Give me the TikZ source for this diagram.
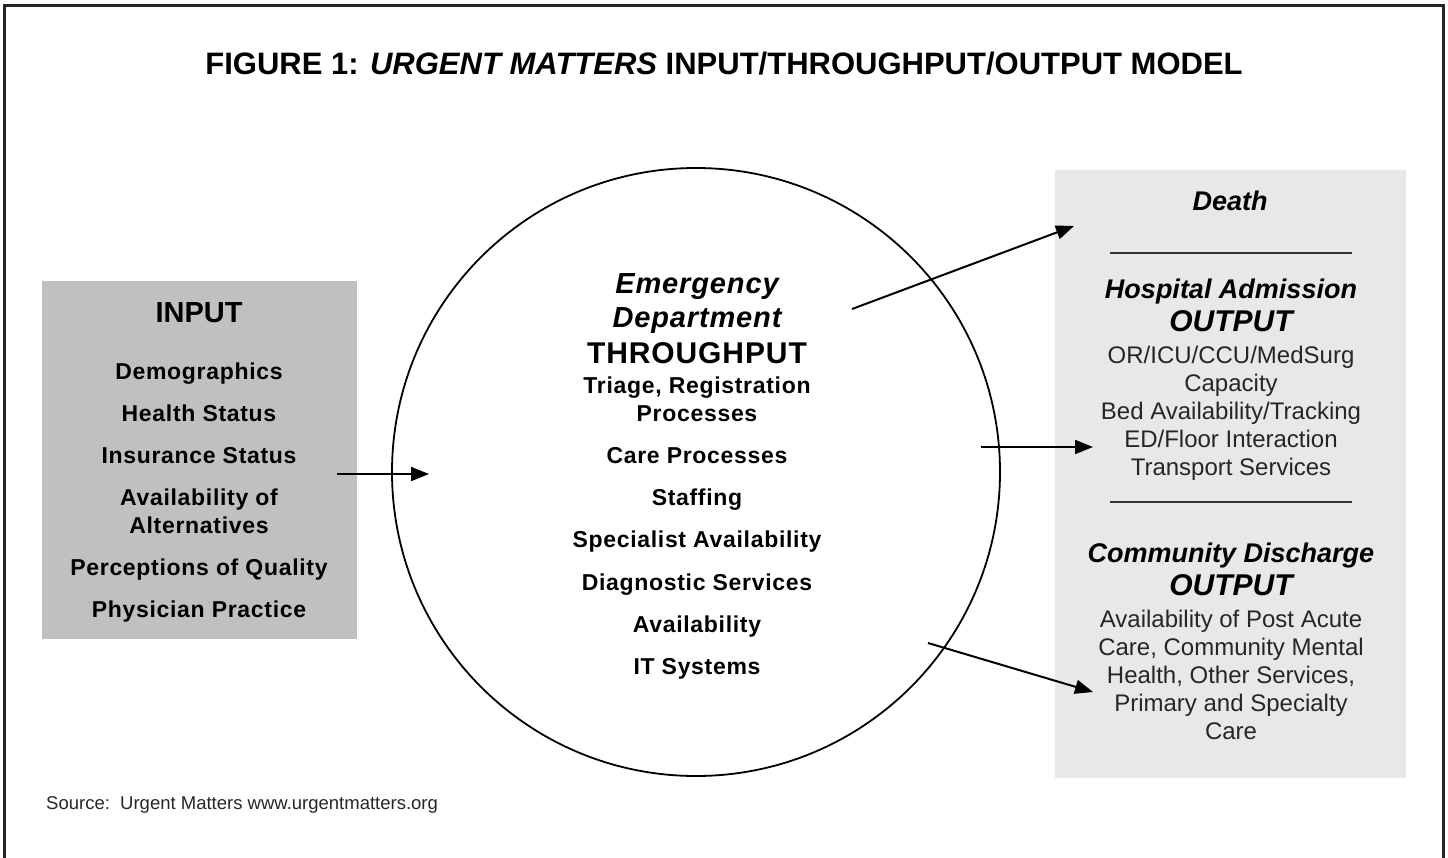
\documentclass[tikz,border=0pt]{standalone}
\usepackage{fontspec}
\setmainfont{Liberation Sans}
\newfontfamily\spacedfont[LetterSpace=3]{Liberation Sans}
\usetikzlibrary{arrows.meta}
\definecolor{ingray}{HTML}{C0C0C0}
\definecolor{outgray}{HTML}{E8E8E8}
\definecolor{bodytxt}{HTML}{262626}
\begin{document}
\begin{tikzpicture}[x=1pt,y=-1pt,
  lbl/.style={anchor=base,inner sep=0pt},
  inb/.style={lbl,font=\spacedfont\fontsize{23}{28}\selectfont\bfseries},
  cb/.style={lbl,font=\spacedfont\fontsize{23}{28}\selectfont\bfseries},
  ohead/.style={lbl,font=\fontsize{27}{30}\selectfont\bfseries\itshape},
  obig/.style={lbl,font=\fontsize{30}{32}\selectfont\bfseries\itshape},
  obody/.style={lbl,text=bodytxt,font=\fontsize{24}{28}\selectfont},
  arr/.style={line width=2pt,-{Triangle[length=18pt,width=14pt]}},
  sep/.style={line width=2pt,black!80},
]
\useasboundingbox (0,0) rectangle (1448,857);
\fill[white] (0,0) rectangle (1448,857);
\draw[line width=3pt,black!85] (4,860) -- (4,5) -- (1443,5) -- (1443,860);

% title
\node[lbl,font=\fontsize{31}{34}\selectfont\bfseries] (title) at (724,74)
  {FIGURE 1: \textit{URGENT MATTERS} INPUT/THROUGHPUT/OUTPUT MODEL};

% boxes and circle
\node[fill=ingray,inner sep=0pt,minimum width=315pt,minimum height=358pt,anchor=north west] (inbox) at (42,281) {};
\node[fill=outgray,inner sep=0pt,minimum width=351pt,minimum height=608pt,anchor=north west] (outbox) at (1055,170) {};
\node[draw,circle,line width=1.8pt,minimum size=608pt,inner sep=0pt] (ed) at (696,472) {};

% input texts
\node[lbl,font=\fontsize{29}{32}\selectfont\bfseries] (inh) at (199,322) {INPUT};
\node[inb] (i1) at (199,379) {Demographics};
\node[inb] (i2) at (199,421) {Health Status};
\node[inb] (i3) at (199,463) {Insurance Status};
\node[inb] (i4) at (199,505) {Availability of};
\node[inb] (i5) at (199,533) {Alternatives};
\node[inb] (i6) at (199,575) {Perceptions of Quality};
\node[inb] (i7) at (199,617) {Physician Practice};

% throughput texts
\node[lbl,font=\spacedfont\fontsize{29}{30}\selectfont\bfseries\itshape] (c1) at (697,293) {Emergency};
\node[lbl,font=\spacedfont\fontsize{29}{30}\selectfont\bfseries\itshape] (c2) at (697,327) {Department};
\node[lbl,font=\spacedfont\fontsize{30}{32}\selectfont\bfseries] (c3) at (697,363) {THROUGHPUT};
\node[cb] (c4) at (697,393) {Triage, Registration};
\node[cb] (c5) at (697,421) {Processes};
\node[cb] (c6) at (697,463) {Care Processes};
\node[cb] (c7) at (697,505) {Staffing};
\node[cb] (c8) at (697,547) {Specialist Availability};
\node[cb] (c9) at (697,590) {Diagnostic Services};
\node[cb] (c10) at (697,632) {Availability};
\node[cb] (c11) at (697,674) {IT Systems};

% output texts
\node[ohead] (o1) at (1230,210) {Death};
\coordinate (s1a) at (1110,253); \coordinate (s1b) at (1352,253);
\draw[sep] (s1a) -- (s1b);
\node[ohead] (o2) at (1231,298) {Hospital Admission};
\node[obig] (o3) at (1231,331) {OUTPUT};
\node[obody] (o4) at (1231,363) {OR/ICU/CCU/MedSurg};
\node[obody] (o5) at (1231,391) {Capacity};
\node[obody] (o6) at (1231,419) {Bed Availability/Tracking};
\node[obody] (o7) at (1231,447) {ED/Floor Interaction};
\node[obody] (o8) at (1231,475) {Transport Services};
\coordinate (s2a) at (1110,502); \coordinate (s2b) at (1352,502);
\draw[sep] (s2a) -- (s2b);
\node[ohead] (o9) at (1231,562) {Community Discharge};
\node[obig] (o10) at (1231,595) {OUTPUT};
\node[obody] (o11) at (1231,627) {Availability of Post Acute};
\node[obody] (o12) at (1231,655) {Care, Community Mental};
\node[obody] (o13) at (1231,683) {Health, Other Services,};
\node[obody] (o14) at (1231,711) {Primary and Specialty};
\node[obody] (o15) at (1231,739) {Care};

% source
\node[anchor=base west,inner sep=0pt,font=\fontsize{18.5}{20}\selectfont,text=bodytxt] (src) at (46,809)
  {Source:\ \ Urgent Matters www.urgentmatters.org};

% arrows
\coordinate (a1s) at (337,474); \coordinate (a1e) at (429,474);
\coordinate (a2s) at (852,309); \coordinate (a2e) at (1074,226);
\coordinate (a3s) at (981,447); \coordinate (a3e) at (1093,447);
\coordinate (a4s) at (928,643); \coordinate (a4e) at (1093,692);
\draw[arr] (a1s) -- (a1e);
\draw[arr] (a2s) -- (a2e);
\draw[arr] (a3s) -- (a3e);
\draw[arr] (a4s) -- (a4e);
\end{tikzpicture}
\end{document}
